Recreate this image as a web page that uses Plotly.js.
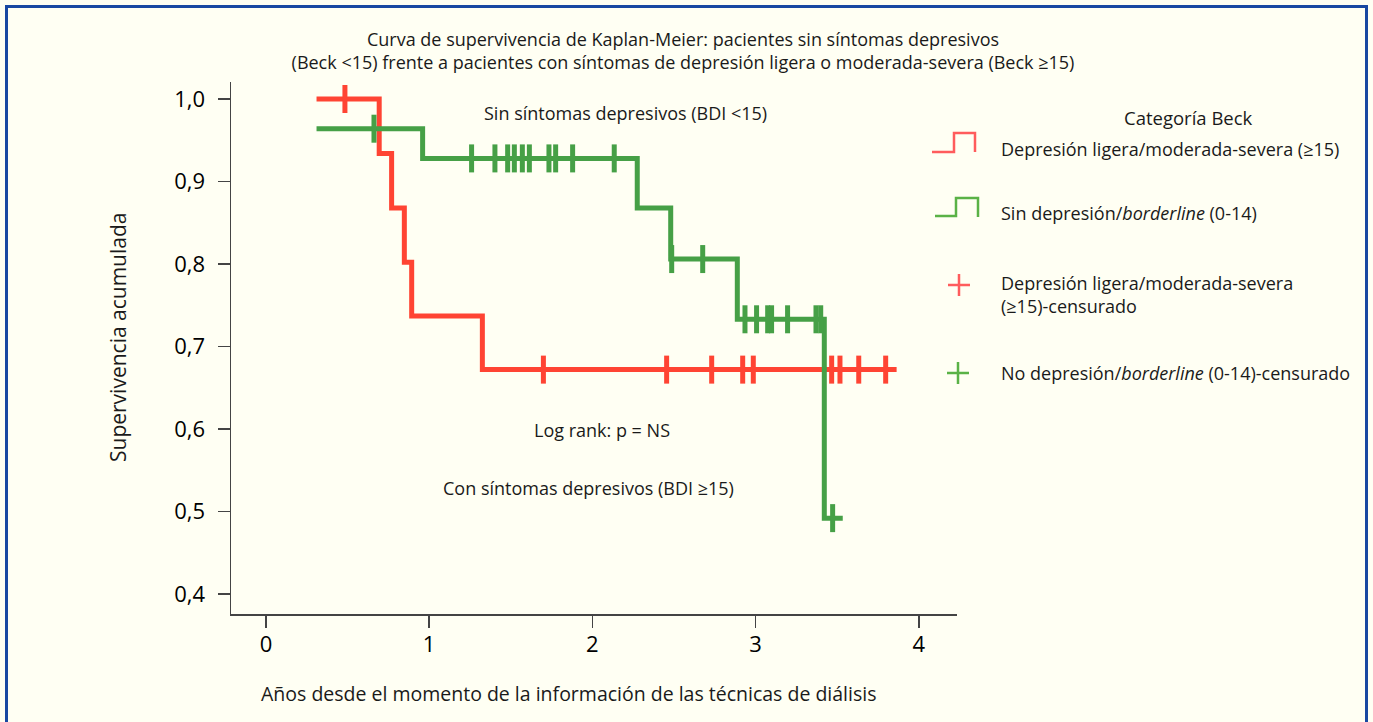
<!DOCTYPE html>
<html><head><meta charset="utf-8">
<script src="https://cdn.plot.ly/plotly-3.0.1.min.js"></script>
<style>html,body{margin:0;padding:0;background:#fffff3;} #chart{width:1373px;height:722px;}</style>
</head><body><div id="chart"></div>
<script>
// ---- data ----
const redTimes  = [0.31, 0.694, 0.770, 0.848, 0.893, 1.326, 3.864];
const redSurv   = [1.000, 0.934, 0.868, 0.802, 0.737, 0.672, 0.672];
const redCensTimes = [0.484, 1.70, 2.455, 2.731, 2.921, 2.986, 3.466, 3.517, 3.632, 3.797];
const redCensSurv  = [1.000, 0.672, 0.672, 0.672, 0.672, 0.672, 0.672, 0.672, 0.672, 0.672];

const greenTimes = [0.31, 0.960, 2.275, 2.480, 2.888, 3.421, 3.534];
const greenSurv  = [0.964, 0.928, 0.868, 0.806, 0.733, 0.492, 0.492];
const greenCensTimes = [0.662, 1.260, 1.403, 1.481, 1.522, 1.571, 1.614, 1.734, 1.775, 1.879, 2.134,
                        2.486, 2.676, 2.935, 3.006, 3.074, 3.098, 3.196, 3.370, 3.399, 3.472];
const greenCensSurv  = [0.964, 0.928, 0.928, 0.928, 0.928, 0.928, 0.928, 0.928, 0.928, 0.928, 0.928,
                        0.806, 0.806, 0.733, 0.733, 0.733, 0.733, 0.733, 0.733, 0.733, 0.492];

const xTickVals = [0, 1, 2, 3, 4];
const xTickText = ['0', '1', '2', '3', '4'];
const yTickVals = [0.4, 0.5, 0.6, 0.7, 0.8, 0.9, 1.0];
const yTickText = ['0,4', '0,5', '0,6', '0,7', '0,8', '0,9', '1,0'];

const legendTitle = 'Categoría Beck';
const legendLabels = [
  'Depresión ligera/moderada-severa (≥15)',
  'Sin depresión/<i>borderline</i> (0-14)',
  'Depresión ligera/moderada-severa<br>(≥15)-censurado',
  'No depresión/<i>borderline</i> (0-14)-censurado'
];

// ---- styling ----
const RED = '#ff4433', GREEN = '#46a046';
const RED_L = '#ff5c5c', GREEN_L = '#5ab246';
const BLUE = '#1848a2', BG = '#fffff3';
const FONT = 'Open Sans, Noto Sans, DejaVu Sans, sans-serif';
const W = 1373, H = 722;
const M = {l: 231, r: 416, t: 82, b: 108};
const PW = W - M.l - M.r, PH = H - M.t - M.b;
const px = v => (v - M.l) / PW;          // pixel x -> paper
const py = v => (H - M.b - v) / PH;      // pixel y -> paper

const traces = [
  {x: redTimes, y: redSurv, mode: 'lines', line: {shape: 'hv', color: RED, width: 5}, showlegend: false, hoverinfo: 'skip'},
  {x: greenTimes, y: greenSurv, mode: 'lines', line: {shape: 'hv', color: GREEN, width: 5}, showlegend: false, hoverinfo: 'skip'},
  {x: redCensTimes, y: redCensSurv, mode: 'markers', marker: {symbol: 'line-ns', size: 20, line: {color: RED, width: 5}}, showlegend: false},
  {x: greenCensTimes, y: greenCensSurv, mode: 'markers', marker: {symbol: 'line-ns', size: 20, line: {color: GREEN, width: 5}}, showlegend: false}
];

function pathPx(pts) {
  return pts.map((p, i) => (i ? 'L' : 'M') + px(p[0]).toFixed(5) + ',' + py(p[1]).toFixed(5)).join(' ');
}
const shapes = [
  // frame
  {type: 'rect', xref: 'paper', yref: 'paper', x0: px(6.5), x1: px(1366.5), y0: py(760), y1: py(6.5), line: {color: BLUE, width: 3}},
  // legend icons
  {type: 'path', xref: 'paper', yref: 'paper', path: pathPx([[932,152],[954,152],[954,133],[975,133],[975,152]]), line: {color: RED_L, width: 2.5}},
  {type: 'path', xref: 'paper', yref: 'paper', path: pathPx([[935,216],[956,216],[956,198],[978,198],[978,217]]), line: {color: GREEN_L, width: 2.5}},
  {type: 'path', xref: 'paper', yref: 'paper', path: pathPx([[948,285],[970,285]]) + ' ' + pathPx([[959,274],[959,296]]), line: {color: RED_L, width: 2.5}},
  {type: 'path', xref: 'paper', yref: 'paper', path: pathPx([[947,373],[969,373]]) + ' ' + pathPx([[958,362],[958,384]]), line: {color: GREEN_L, width: 2.5}}
];

const txt = (size) => ({family: FONT, size: size, color: '#1a1a1a'});
const pAnn = (text, x, y, size, extra) => Object.assign({text: text, x: px(x), y: py(y), xref: 'paper', yref: 'paper',
  xanchor: 'center', yanchor: 'middle', showarrow: false, font: txt(size)}, extra || {});
const annotations = [
  {text: 'Sin síntomas depresivos (BDI <15)', x: 2.203, y: 0.983, xref: 'x', yref: 'y', xanchor: 'center', yanchor: 'middle', showarrow: false, font: txt(18)},
  {text: 'Log rank: p = NS', x: 2.059, y: 0.599, xref: 'x', yref: 'y', xanchor: 'center', yanchor: 'middle', showarrow: false, font: txt(18)},
  {text: 'Con síntomas depresivos (BDI ≥15)', x: 1.976, y: 0.5285, xref: 'x', yref: 'y', xanchor: 'center', yanchor: 'middle', showarrow: false, font: txt(18)},
  pAnn('Supervivencia acumulada', 118, 338, 21, {textangle: -90}),
  pAnn('Años desde el momento de la información de las técnicas de diálisis', 568, 693, 19.5),
  pAnn(legendTitle, 1188, 117, 18.5),
  pAnn(legendLabels[0], 999, 149, 18, {xanchor: 'left'}),
  pAnn(legendLabels[1], 999, 213, 18, {xanchor: 'left'}),
  pAnn(legendLabels[2], 999, 294, 18, {xanchor: 'left', align: 'left'}),
  pAnn(legendLabels[3], 999, 373, 18, {xanchor: 'left'})
];

const layout = {
  width: W, height: H,
  margin: M,
  paper_bgcolor: BG, plot_bgcolor: BG,
  title: {text: 'Curva de supervivencia de Kaplan-Meier: pacientes sin síntomas depresivos<br>(Beck <15) frente a pacientes con síntomas de depresión ligera o moderada-severa (Beck ≥15)',
          x: 683 / W, xref: 'container', xanchor: 'center', y: 1 - 46 / H, yref: 'container', yanchor: 'middle',
          font: txt(18)},
  xaxis: {range: [-0.214, 4.234], showgrid: false, zeroline: false, showline: true, linecolor: '#444', linewidth: 1.5,
          ticks: 'outside', ticklen: 12, tickwidth: 1.5, tickcolor: '#444', tickvals: xTickVals, ticktext: xTickText,
          tickfont: {family: FONT, size: 22, color: '#000'}, ticklabelstandoff: -2, fixedrange: true},
  yaxis: {range: [0.3758, 1.0206], showgrid: false, zeroline: false, showline: true, linecolor: '#444', linewidth: 1.5,
          ticks: 'outside', ticklen: 12, tickwidth: 1.5, tickcolor: '#444', tickvals: yTickVals, ticktext: yTickText,
          tickfont: {family: FONT, size: 22, color: '#000'}, ticklabelstandoff: 8, fixedrange: true},
  shapes: shapes,
  annotations: annotations,
  showlegend: false
};

Plotly.newPlot('chart', traces, layout, {displayModeBar: false, staticPlot: true});
</script>
</body></html>
